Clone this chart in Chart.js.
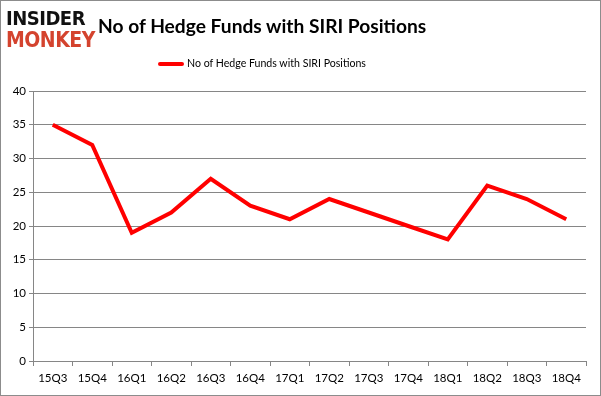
<!DOCTYPE html>
<html>
<head>
<meta charset="utf-8">
<script src="https://cdn.jsdelivr.net/npm/chart.js@4"></script>
<style>
  html, body { margin: 0; padding: 0; background: #fff; }
  #wrap { position: relative; width: 601px; height: 396px; box-sizing: border-box; border: 1px solid #8c8c8c; overflow: hidden; }
  #chart { position: absolute; left: 0; top: 0; }
  .logo { position: absolute; left: 5px; font-family: "DejaVu Sans Condensed", "DejaVu Sans", sans-serif; font-weight: bold; letter-spacing: -0.5px; line-height: 1; }
  #logo1 { top: 7px; font-size: 20px; color: #111; }
  #logo2 { top: 29px; font-size: 21px; color: #d4432e; }
  #title { position: absolute; left: 97px; top: 13px; font-family: "Lato", sans-serif; font-weight: bold; font-size: 19.2px; color: #000; white-space: nowrap; }
  #legend { position: absolute; left: 157px; top: 56px; font-family: "Lato", sans-serif; font-size: 10.6px; color: #000; white-space: nowrap; }
  #legend span.swatch { display: inline-block; width: 26px; height: 4px; background: #ff0000; vertical-align: middle; margin-right: 3px; border-radius: 2px; }
</style>
</head>
<body>
<div id="wrap">
  <canvas id="chart" width="599" height="394"></canvas>
  <div class="logo" id="logo1">INSIDER</div>
  <div class="logo" id="logo2">MONKEY</div>
  <div id="title">No of Hedge Funds with SIRI Positions</div>
  <div id="legend"><span class="swatch"></span>No of Hedge Funds with SIRI Positions</div>
</div>
<script>
// ===== DATA =====
const quarters = ['15Q3', '15Q4', '16Q1', '16Q2', '16Q3', '16Q4', '17Q1', '17Q2', '17Q3', '17Q4', '18Q1', '18Q2', '18Q3', '18Q4'];
const fundCounts = [35, 32, 19, 22, 27, 23, 21, 24, 22, 20, 18, 26, 24, 21];
const seriesName = 'No of Hedge Funds with SIRI Positions';

const axisFont = { family: 'Lato', size: 11.5 };

const ctx = document.getElementById('chart').getContext('2d');
new Chart(ctx, {
    type: 'line',
    data: {
        labels: quarters,
        datasets: [{
            label: seriesName,
            data: fundCounts,
            borderColor: '#ff0000',
            borderWidth: 4,
            pointRadius: 0,
            tension: 0,
            fill: false
        }]
    },
    options: {
        responsive: false,
        animation: false,
        layout: { padding: { top: 90, right: 14, bottom: 0, left: 0 } },
        plugins: {
            legend: { display: false },
            title: { display: false },
            tooltip: { enabled: false }
        },
        scales: {
            x: {
                offset: true,
                grid: { offset: true, drawOnChartArea: false, color: '#868686', tickLength: 5 },
                border: { color: '#868686' },
                ticks: { color: '#000', font: axisFont, padding: 5, maxRotation: 0, autoSkip: false },
                afterFit: function(scale) { scale.height = 34; }
            },
            y: {
                min: 0,
                max: 40,
                ticks: { stepSize: 5, color: '#000', font: axisFont, padding: 3 },
                grid: { color: '#868686', tickLength: 4 },
                border: { color: '#868686' },
                afterFit: function(scale) { scale.width = 32; }
            }
        }
    }
});
</script>
</body>
</html>
